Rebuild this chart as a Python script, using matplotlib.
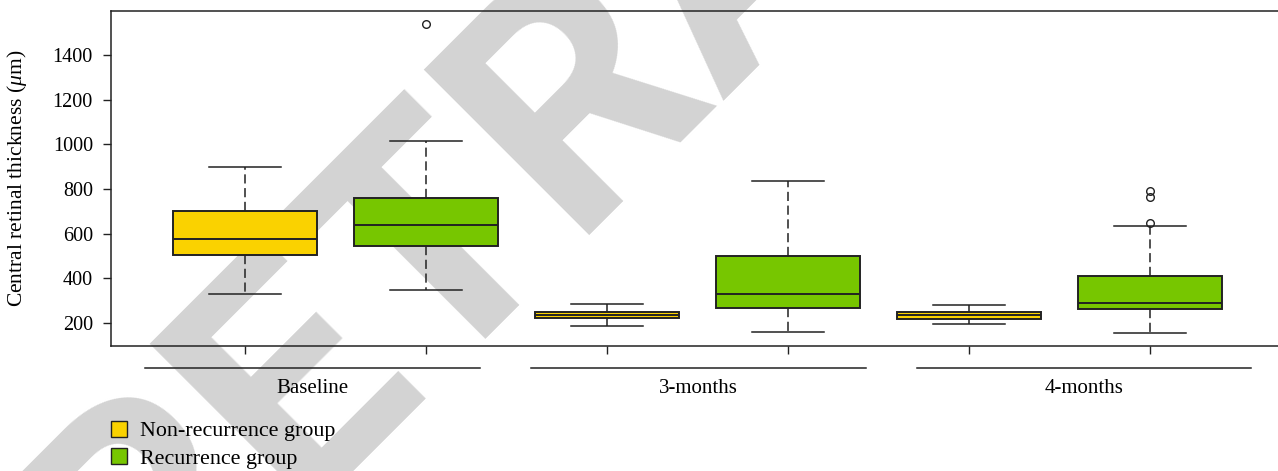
import matplotlib
matplotlib.use("Agg")
import matplotlib.pyplot as plt
from matplotlib.patches import Patch
from matplotlib.font_manager import FontProperties, findfont
from matplotlib.textpath import TextPath
import numpy as np

plt.rcParams.update({
    "font.family": "Liberation Serif",
    "font.size": 14,
    "mathtext.fontset": "custom",
    "mathtext.rm": "Liberation Serif",
    "mathtext.it": "Liberation Serif:italic",
})

TIMEPOINTS = ["Baseline", "3-months", "4-months"]
GROUPS = ["Non-recurrence group", "Recurrence group"]
COLORS = ["#FAD200", "#77C600"]
EDGE = "#222222"

# box statistics
# order: Baseline NR, Baseline R, 3-months NR, 3-months R, 4-months NR, 4-months R
WHISLO = [330, 346, 186, 160, 197, 155]
Q1 = [504, 545, 221, 266, 220, 261]
MED = [575, 639, 236, 330, 234, 289]
Q3 = [701, 758, 251, 500, 248, 409]
WHISHI = [898, 1013, 285, 837, 282, 634]
FLIERS = [[], [1540], [], [], [], [646, 765, 790]]

YTICKS = [200, 400, 600, 800, 1000, 1200, 1400]

W, H = 1278, 471

stats = []
for i in range(len(MED)):
    stats.append({"med": MED[i], "q1": Q1[i], "q3": Q3[i],
                  "whislo": WHISLO[i], "whishi": WHISHI[i],
                  "fliers": FLIERS[i]})
positions = np.arange(1, len(stats) + 1)

fig = plt.figure(figsize=(W / 100, H / 100), dpi=100)
fig.patch.set_facecolor("white")
ax = fig.add_axes([111 / W, 125 / H, 1173 / W, 335 / H])
ax.set_facecolor("none")

bp = ax.bxp(stats, positions=positions, widths=0.8, capwidths=0.4,
            patch_artist=True, manage_ticks=False,
            boxprops=dict(edgecolor=EDGE, linewidth=1.4),
            medianprops=dict(color=EDGE, linewidth=1.4),
            whiskerprops=dict(color=EDGE, linewidth=1.1, linestyle=(0, (6, 3))),
            capprops=dict(color=EDGE, linewidth=1.1),
            flierprops=dict(marker="o", markerfacecolor="none",
                            markeredgecolor=EDGE, markersize=5.5,
                            markeredgewidth=1.0))
for i, box in enumerate(bp["boxes"]):
    box.set_facecolor(COLORS[i % 2])

ax.set_xlim(0.26, 6.74)
ax.set_ylim(97, 1597)
ax.set_yticks(YTICKS)
ax.set_xticks(positions)
ax.tick_params(axis="x", direction="out", length=6, width=1, labelbottom=False,
               color=EDGE)
ax.tick_params(axis="y", direction="out", length=6, width=1, pad=7,
               color=EDGE, labelsize=14.5)
for sp in ax.spines.values():
    sp.set_color(EDGE)
    sp.set_linewidth(1.1)

ax.set_ylabel("Central retinal thickness ($\\mu$m)", fontsize=15.5)
ax.yaxis.set_label_coords(-0.0699, 0.5)

# group brackets under the axis
xtr = ax.get_xaxis_transform()
for g, name in enumerate(TIMEPOINTS):
    x0 = 0.45 + 2.13 * g
    x1 = x0 + 1.85
    ax.plot([x0, x1], [-0.066, -0.066], color=EDGE, lw=1.1,
            transform=xtr, clip_on=False)
    ax.text((x0 + x1) / 2, -0.128, name, transform=xtr, ha="center",
            va="center", fontsize=15)

handles = [Patch(facecolor=c, edgecolor=EDGE, linewidth=1.0) for c in COLORS]
fig.legend(handles, GROUPS, loc="upper left",
           bbox_to_anchor=(111 / W, 1 - 421 / H), frameon=False,
           handlelength=0.72, handleheight=0.72, handletextpad=0.6,
           borderpad=0, borderaxespad=0, labelspacing=0.3, fontsize=15.8)

# retraction watermark, rotated 45 degrees, placed so the second "R"
# sits where it does in the source image
wm_family = "Liberation Sans"
for cand in ["Roboto", "Open Sans"]:
    path = findfont(FontProperties(family=cand, weight="bold"),
                    fallback_to_default=False)
    if cand.replace(" ", "").lower() in path.replace(" ", "").lower() and "bold" in path.lower():
        wm_family = cand
        break
em_px = 328.0
wm_prop = FontProperties(family=wm_family, weight="bold")
adv = (TextPath((0, 0), "RETR", size=em_px, prop=wm_prop).get_extents().width
       - TextPath((0, 0), "R", size=em_px, prop=wm_prop).get_extents().width)
c = np.sqrt(0.5)
r2_x, r2_y = 587.0 - 25 * c, 217.0 + 25 * c   # second R, image pixels
ax0 = r2_x - adv * c
ay0 = r2_y + adv * c
fig.text(ax0 / W, 1 - ay0 / H, "RETRACTED", rotation=45,
         rotation_mode="anchor", ha="left", va="baseline",
         fontsize=em_px * 72 / 100, fontweight="bold", family=wm_family,
         color="#d3d3d3", zorder=-5)

fig.savefig("out.png", dpi=100)
